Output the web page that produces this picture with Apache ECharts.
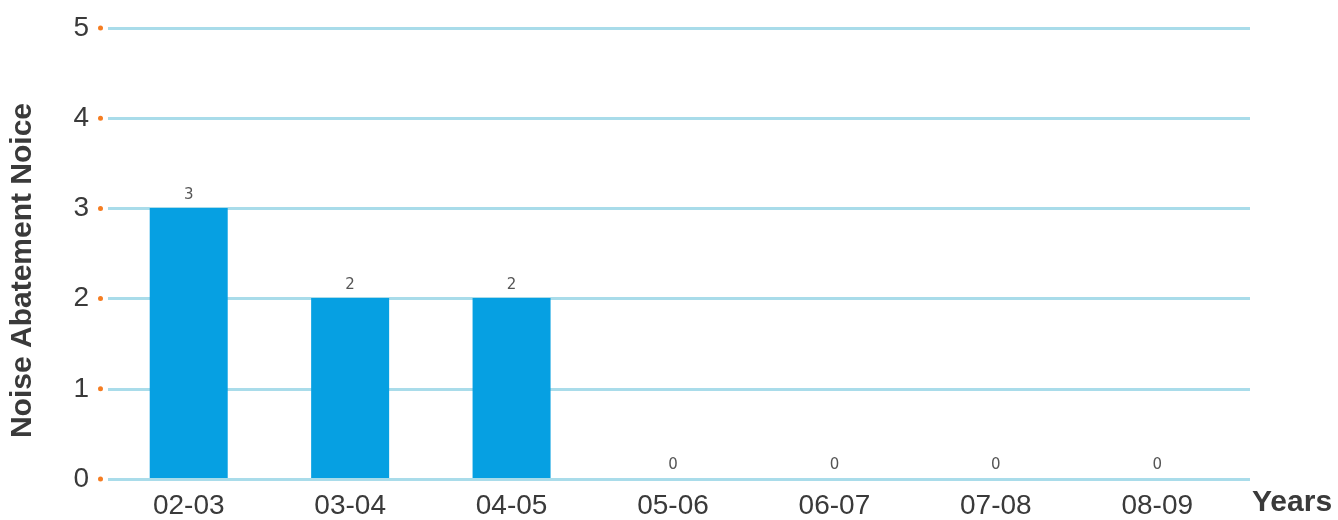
<!DOCTYPE html>
<html>
<head>
<meta charset="utf-8">
<script src="https://cdn.jsdelivr.net/npm/echarts@6/dist/echarts.min.js"></script>
<style>
  html, body { margin: 0; padding: 0; background: #ffffff; }
  #chart { width: 1338px; height: 520px; }
</style>
</head>
<body>
<div id="chart"></div>
<script>
// Notice counts per financial year
const years = ['02-03', '03-04', '04-05', '05-06', '06-07', '07-08', '08-09'];
const notices = [3, 2, 2, 0, 0, 0, 0];
const yTicks = [0, 1, 2, 3, 4, 5];

const textColor = '#3a3a3a';
const gridColor = '#a9dcea';
const barColor = '#06a0e2';
const dotColor = '#f57d22';
const font = 'Liberation Sans, Arial, sans-serif';

const chart = echarts.init(document.getElementById('chart'));

chart.setOption({
  animation: false,
  backgroundColor: '#ffffff',
  grid: [
    // grid 0: horizontal guide lines, running a little past the last category
    { left: 108, right: 88, top: 28, bottom: 41 },
    // grid 1: the category band for the bars
    { left: 108, width: 1130, top: 28, bottom: 41 }
  ],
  xAxis: [
    { gridIndex: 0, type: 'value', show: false, min: 0, max: 1 },
    {
      gridIndex: 1,
      type: 'category',
      data: years,
      axisLine: { show: false },
      axisTick: { show: false },
      axisLabel: { color: textColor, fontSize: 28, fontFamily: font, margin: 14 },
      name: 'Years',
      nameLocation: 'end',
      nameGap: 14,
      nameTextStyle: {
        color: textColor, fontSize: 30, fontWeight: 'bold', fontFamily: font,
        verticalAlign: 'top', padding: [10, 0, 0, 0]
      }
    }
  ],
  yAxis: [
    {
      gridIndex: 0,
      type: 'value',
      min: yTicks[0], max: yTicks[yTicks.length - 1], interval: 1,
      axisLine: { show: false },
      axisTick: { show: false },
      splitLine: { show: true, lineStyle: { color: gridColor, width: 3 } },
      axisLabel: {
        margin: 5,
        formatter: v => '{v|' + v + '}{d|}',
        rich: {
          v: { color: textColor, fontSize: 28, fontFamily: font, padding: [0, 9, 0, 0] },
          d: { width: 5, height: 5, backgroundColor: dotColor, borderRadius: 2.5 }
        }
      },
      name: 'Noise Abatement Noice',
      nameLocation: 'middle',
      nameRotate: 90,
      nameGap: 70,
      nameTextStyle: {
        color: textColor, fontSize: 30, fontWeight: 'bold', fontFamily: font,
        padding: [0, 34, 0, 0]
      }
    },
    {
      gridIndex: 1,
      type: 'value',
      min: yTicks[0], max: yTicks[yTicks.length - 1], interval: 1,
      show: false,
      splitLine: { show: false }
    }
  ],
  series: [
    {
      type: 'bar',
      xAxisIndex: 1,
      yAxisIndex: 1,
      data: notices,
      barWidth: 78,
      itemStyle: { color: barColor },
      label: {
        show: true,
        position: 'top',
        distance: 5,
        color: '#555555',
        fontSize: 15,
        fontFamily: 'DejaVu Sans, sans-serif'
      },
      z: 3
    }
  ]
});
</script>
</body>
</html>
